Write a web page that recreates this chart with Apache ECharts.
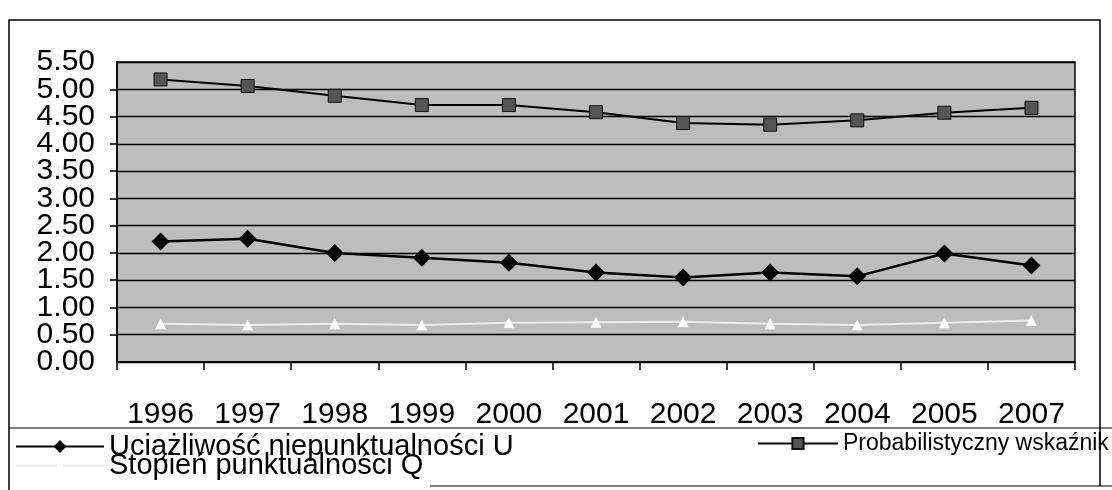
<!DOCTYPE html>
<html lang="pl">
<head>
<meta charset="utf-8">
<title>Wskaźniki punktualności</title>
<script src="https://cdn.jsdelivr.net/npm/echarts@6/dist/echarts.min.js"></script>
<style>
  html, body {
    margin: 0;
    padding: 0;
    background: #fff;
  }
  #chart_punkt {
    width: 1112px;
    height: 490px;
  }
</style>
</head>
<body>
<div id="chart_punkt"></div>
<script>
// lata
const years = ['1996', '1997', '1998', '1999', '2000', '2001', '2002', '2003', '2004', '2005', '2007'];
// Uciążliwość niepunktualności U
const uValues = [2.21, 2.26, 2.00, 1.91, 1.82, 1.64, 1.55, 1.64, 1.57, 1.99, 1.77];
// Probabilistyczny wskaźnik
const pValues = [5.18, 5.06, 4.88, 4.71, 4.71, 4.58, 4.38, 4.35, 4.43, 4.57, 4.66];
// Stopień punktualności Q
const qValues = [0.70, 0.68, 0.70, 0.68, 0.72, 0.73, 0.74, 0.70, 0.68, 0.72, 0.76];

const seriesNames = ['Uciążliwość niepunktualności U', 'Probabilistyczny wskaźnik', 'Stopień punktualności Q'];
const yMin = 0;
const yMax = 5.5;
const yStep = 0.5;

let myChart = echarts.init(document.getElementById('chart_punkt'));

let labelFont = {
  fontFamily: 'Liberation Sans, Arial, sans-serif',
  color: '#000'
};

let yLabel = {
  fontSize: 30,
  margin: 22,
  formatter: function (v) { return v.toFixed(2); }
};

let option = {
  animation: false,
  backgroundColor: '#fff',
  grid: {
    left: 117,
    right: 37,
    top: 62,
    bottom: 128,
    show: true,
    backgroundColor: '#bdbdbd',
    borderColor: '#000',
    borderWidth: 1.5
  },
  legend: [{
    data: [seriesNames[0]],
    left: 10,
    top: 427,
    itemWidth: 88,
    itemHeight: 16,
    textStyle: Object.assign({ fontSize: 29 }, labelFont)
  }, {
    data: [seriesNames[1]],
    left: 752,
    top: 427,
    itemWidth: 80,
    itemHeight: 14,
    textStyle: Object.assign({ fontSize: 23 }, labelFont)
  }, {
    data: [seriesNames[2]],
    left: 10,
    top: 446,
    itemWidth: 88,
    itemHeight: 16,
    textStyle: Object.assign({ fontSize: 29 }, labelFont)
  }],
  xAxis: {
    type: 'category',
    data: years,
    boundaryGap: true,
    axisLine: {
      show: true,
      lineStyle: { color: '#000', width: 1.5 }
    },
    axisTick: {
      show: true,
      length: 8,
      lineStyle: { color: '#000', width: 1.5 }
    },
    axisLabel: Object.assign({
      fontSize: 30,
      margin: 38,
      interval: 0
    }, labelFont),
    splitLine: { show: false }
  },
  yAxis: [{
    type: 'value',
    min: yMin,
    max: yMax,
    interval: yStep,
    axisLine: {
      show: true,
      lineStyle: { color: '#000', width: 1.5 }
    },
    axisTick: {
      show: true,
      length: 7,
      lineStyle: { color: '#000', width: 1.5 }
    },
    axisLabel: Object.assign({
      showMinLabel: false,
      showMaxLabel: false
    }, yLabel, labelFont),
    splitLine: {
      show: true,
      lineStyle: { color: '#000', width: 1.3 }
    }
  }, {
    // second axis only carries the end labels 0.00 and 5.50
    type: 'value',
    position: 'left',
    min: yMin,
    max: yMax,
    interval: yMax,
    axisLine: { show: false },
    axisTick: { show: false },
    splitLine: { show: false },
    axisLabel: Object.assign({
      showMinLabel: true,
      showMaxLabel: true
    }, yLabel, labelFont)
  }],
  series: [{
    name: seriesNames[0],
    type: 'line',
    data: uValues,
    symbol: 'diamond',
    symbolSize: 18,
    itemStyle: { color: '#000' },
    lineStyle: { color: '#000', width: 2.5 }
  }, {
    name: seriesNames[1],
    type: 'line',
    data: pValues,
    symbol: 'rect',
    symbolSize: 13,
    itemStyle: { color: '#555', borderColor: '#111', borderWidth: 1 },
    lineStyle: { color: '#000', width: 2 }
  }, {
    name: seriesNames[2],
    type: 'line',
    data: qValues,
    symbol: 'triangle',
    symbolSize: 11,
    itemStyle: { color: '#fff' },
    lineStyle: { color: '#ececec', width: 2 }
  }],
  graphic: [{
    type: 'polyline',
    shape: { points: [[9, 490], [9, 20], [1100, 20], [1100, 486]] },
    style: { stroke: '#000', lineWidth: 1.5, fill: null },
    silent: true
  }, {
    type: 'line',
    shape: { x1: 9, y1: 428, x2: 1112, y2: 428 },
    style: { stroke: '#000', lineWidth: 1.2 },
    silent: true
  }, {
    type: 'line',
    shape: { x1: 430, y1: 486, x2: 1112, y2: 486 },
    style: { stroke: '#000', lineWidth: 1.2 },
    silent: true
  }]
};

myChart.setOption(option, true);

window.addEventListener('resize', () => {
  myChart.resize();
});
</script>
</body>
</html>
